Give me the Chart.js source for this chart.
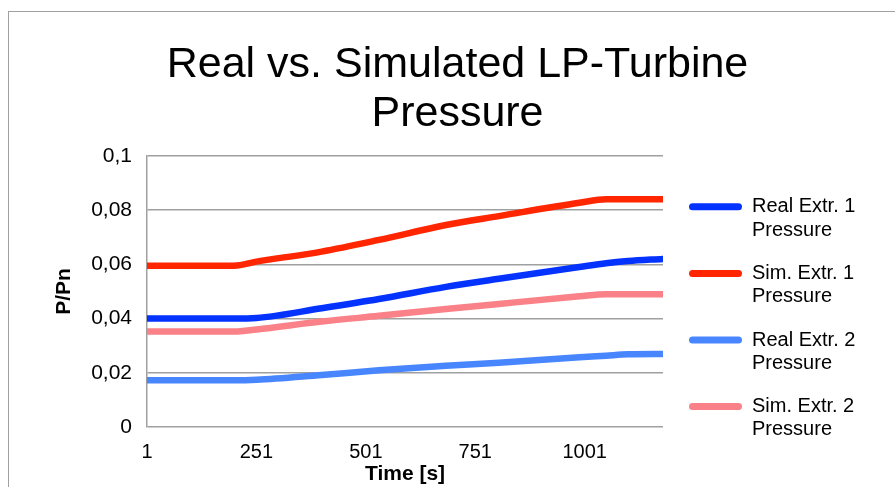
<!DOCTYPE html>
<html>
<head>
<meta charset="utf-8">
<script src="https://cdn.jsdelivr.net/npm/chart.js@4.4.1/dist/chart.umd.min.js"></script>
<style>
    html, body { margin: 0; padding: 0; background: #fff; overflow: hidden; }
    #frame { position: absolute; left: 8px; top: 11px; width: 1000px; height: 1000px;
             border-top: 1.5px solid #a0a0a0; border-left: 1.5px solid #a0a0a0; }
    #chart-lp { position: absolute; left: 0; top: 0; }
</style>
</head>
<body>
<div id="frame"></div>
<canvas id="chart-lp" width="895" height="487"></canvas>
<script>
var timeSec = [1, 200, 251, 400, 531, 684, 805, 989, 1050, 1100, 1179];

var realExtr1 = [0.0400, 0.0400, 0.0402, 0.0438, 0.0472, 0.0517, 0.0547, 0.0590, 0.0604, 0.0612, 0.0620];
var simExtr1  = [0.0595, 0.0595, 0.0610, 0.0647, 0.0690, 0.0745, 0.0778, 0.0827, 0.0840, 0.0840, 0.0840];
var realExtr2 = [0.0172, 0.0172, 0.0174, 0.0192, 0.0209, 0.0226, 0.0237, 0.0257, 0.0263, 0.0268, 0.0269];
var simExtr2  = [0.0352, 0.0352, 0.0360, 0.0389, 0.0410, 0.0435, 0.0454, 0.0482, 0.0490, 0.0490, 0.0490];

var seriesNames = [['Real Extr. 1', 'Pressure'], ['Sim. Extr. 1', 'Pressure'],
                   ['Real Extr. 2', 'Pressure'], ['Sim. Extr. 2', 'Pressure']];
var seriesColors = ['#0433ff', '#ff2600', '#4886ff', '#f98187'];

var xTicks = [1, 251, 501, 751, 1001];
var titleLines = ['Real vs. Simulated LP-Turbine', 'Pressure'];

Chart.defaults.font.family = '"Liberation Sans", Arial, Helvetica, sans-serif';
Chart.defaults.color = '#000';

function makeSet(i, values) {
    return {
        label: seriesNames[i].join(' '),
        data: values,
        borderColor: seriesColors[i],
        backgroundColor: seriesColors[i],
        borderWidth: 6.5,
        borderCapStyle: 'round',
        pointRadius: 0,
        cubicInterpolationMode: 'monotone',
        xAxisID: 'x',
        yAxisID: 'y'
    };
}

var ctxLp = document.getElementById('chart-lp').getContext('2d');
var myChartLp = new Chart(ctxLp, {
    type: 'line',
    data: {
        labels: timeSec,
        datasets: [
            makeSet(0, realExtr1),
            makeSet(1, simExtr1),
            makeSet(2, realExtr2),
            makeSet(3, simExtr2)
        ]
    },
    options: {
        responsive: false,
        animation: false,
        layout: { padding: { left: 20, right: 0, top: 0, bottom: 2 } },
        plugins: {
            tooltip: { enabled: false },
            title: {
                display: true,
                text: titleLines,
                color: '#000',
                font: { size: 43, weight: 'normal', lineHeight: 1.15 },
                padding: { top: 40, bottom: 17 }
            },
            legend: {
                position: 'right',
                title: { display: true, text: '', padding: { top: 154, bottom: 0 }, font: { size: 1, lineHeight: 1 } },
                labels: {
                    boxWidth: 53,
                    boxHeight: 7,
                    padding: 20,
                    color: '#111',
                    font: { size: 20, lineHeight: 1.165 },
                    useBorderRadius: true,
                    borderRadius: 3.5,
                    generateLabels: function (chart) {
                        return chart.data.datasets.map(function (ds, i) {
                            return {
                                text: seriesNames[i],
                                fillStyle: ds.borderColor,
                                strokeStyle: ds.borderColor,
                                lineWidth: 0,
                                borderRadius: 3.5,
                                hidden: false,
                                datasetIndex: i
                            };
                        });
                    }
                }
            }
        },
        scales: {
            x: {
                type: 'linear',
                min: 1,
                max: 1180,
                afterBuildTicks: function (s) {
                    s.ticks = xTicks.map(function (v) { return { value: v }; });
                },
                // grid hidden, tickLength only used as the gap above the labels
                grid: { display: false, drawTicks: true, tickLength: 13 },
                border: { display: false },
                ticks: {
                    autoSkip: false,
                    maxRotation: 0,
                    padding: 0,
                    font: { size: 20 },
                    callback: function (v) { return String(v); }
                },
                title: {
                    display: true,
                    text: 'Time [s]',
                    font: { size: 21, weight: 'bold', lineHeight: 1 },
                    padding: { top: 0, bottom: 0 }
                }
            },
            y: {
                min: 0,
                max: 0.1,
                afterFit: function (s) { s.width = 127; },
                ticks: {
                    stepSize: 0.02,
                    padding: 15,
                    font: { size: 21 },
                    callback: function (v) {
                        return String(parseFloat(v.toFixed(2))).replace('.', ',');
                    }
                },
                grid: { color: '#a0a0a0', lineWidth: 1.5, drawTicks: false },
                border: { color: '#a0a0a0', width: 1.5 },
                title: {
                    display: true,
                    text: 'P/Pn',
                    font: { size: 21, weight: 'bold', lineHeight: 1 },
                    padding: { top: 34, bottom: 0 }
                }
            },
            // hidden boxes that keep the gaps around the legend
            gapR: {
                type: 'linear',
                position: 'right',
                display: false,
                weight: 0,
                afterFit: function (s) { s.width = 6; }
            },
            edgeR: {
                type: 'linear',
                position: 'right',
                display: false,
                weight: 2000,
                afterFit: function (s) {
                    var lw = s.chart.legend ? s.chart.legend.width : 0;
                    s.width = Math.max(0, 895 - 669 - lw);
                }
            }
        }
    }
});
</script>
</body>
</html>
